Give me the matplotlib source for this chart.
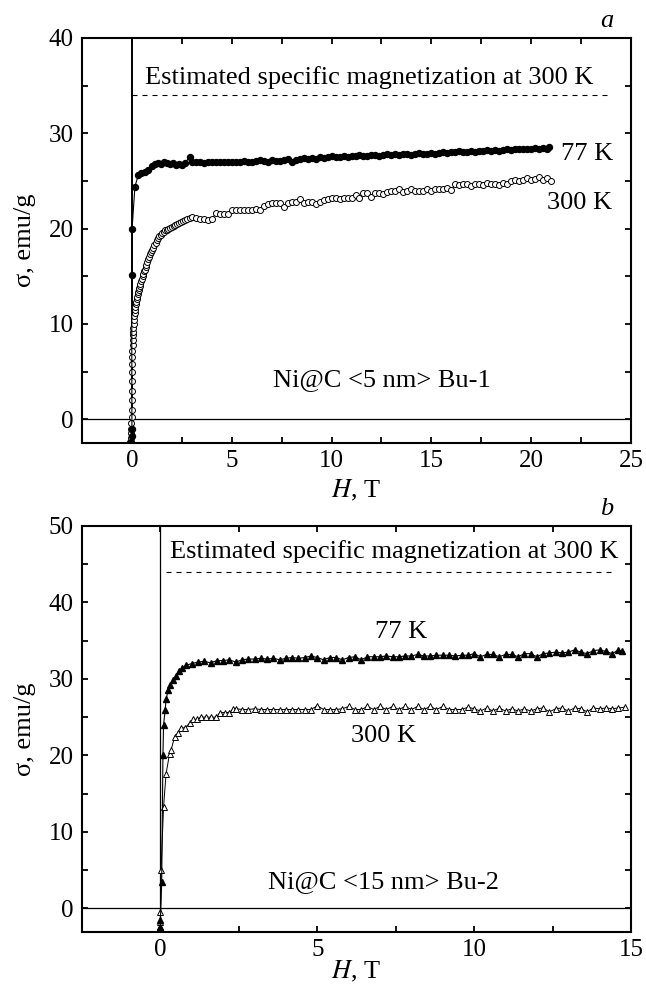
import matplotlib
matplotlib.use("Agg")
import matplotlib.pyplot as plt
from matplotlib.ticker import MultipleLocator

plt.rcParams['font.family'] = ['Liberation Serif', 'DejaVu Serif']
plt.rcParams['mathtext.fontset'] = 'stix'

# ---------------- Panel a: Ni@C <5 nm> Bu-1 ----------------
H_a_77 = [-0.04, -0.02, 0.0, -0.01, 0.01, 0.15, 0.32, 0.48, 0.65, 0.82, 1.0, 1.15,
          1.3, 1.45, 1.6, 1.75, 1.9, 2.05, 2.2, 2.35, 2.5, 2.65, 2.9,
          3.0, 3.2, 3.4, 3.6, 3.8, 4.0, 4.2, 4.4, 4.6, 4.8,
          5.0, 5.2, 5.4, 5.6, 5.8, 6.0, 6.2, 6.4, 6.6, 6.8,
          7.0, 7.2, 7.4, 7.6, 7.8, 8.0, 8.2, 8.4, 8.6, 8.8,
          9.0, 9.2, 9.4, 9.6, 9.8, 10.0, 10.2, 10.4, 10.6, 10.8,
          11.0, 11.2, 11.4, 11.6, 11.8, 12.0, 12.2, 12.4, 12.6, 12.8,
          13.0, 13.2, 13.4, 13.6, 13.8, 14.0, 14.2, 14.4, 14.6, 14.8,
          15.0, 15.2, 15.4, 15.6, 15.8, 16.0, 16.2, 16.4, 16.6, 16.8,
          17.0, 17.2, 17.4, 17.6, 17.8, 18.0, 18.2, 18.4, 18.6, 18.8,
          19.0, 19.2, 19.4, 19.6, 19.8, 20.0, 20.2, 20.4, 20.6, 20.8, 20.9]
S_a_77 = [-2.4, -1.8, -1.0, 15.1, 20.0, 24.4, 25.6, 25.8, 25.9, 26.1, 26.6, 26.8,
          26.9, 26.8, 27.0, 26.9, 26.8, 26.9, 26.7, 26.8, 26.7, 26.9, 27.5,
          27.0, 27.0, 27.0, 26.9, 27.0, 27.0, 27.0, 27.0, 27.0, 27.0,
          27.0, 27.0, 27.0, 27.1, 27.0, 27.0, 27.1, 27.2, 27.1, 27.0,
          27.2, 27.1, 27.1, 27.2, 27.3, 27.0, 27.2, 27.3, 27.4, 27.3,
          27.4, 27.3, 27.5, 27.4, 27.5, 27.6, 27.5, 27.5, 27.6, 27.5,
          27.6, 27.6, 27.7, 27.6, 27.6, 27.7, 27.7, 27.6, 27.7, 27.8,
          27.7, 27.8, 27.7, 27.8, 27.8, 27.7, 27.8, 27.9, 27.8, 27.8,
          27.9, 27.8, 27.9, 28.0, 27.9, 28.0, 28.0, 28.1, 28.0, 28.0,
          28.1, 28.0, 28.1, 28.1, 28.2, 28.1, 28.2, 28.1, 28.2, 28.4,
          28.2, 28.3, 28.3, 28.4, 28.3, 28.4, 28.5, 28.3, 28.5, 28.4, 28.6]

H_a_300 = [-0.08, -0.06, -0.05, -0.04, -0.03, -0.02, -0.02, -0.01,
           0.0, 0.005, 0.01, 0.015, 0.02, 0.025, 0.03, 0.04, 0.05, 0.06, 0.07, 0.085,
           0.1, 0.115, 0.13, 0.15, 0.17, 0.19, 0.21, 0.235, 0.26, 0.285,
           0.31, 0.34, 0.37, 0.4, 0.43, 0.465, 0.5, 0.535, 0.57, 0.61,
           0.65, 0.69, 0.73, 0.775, 0.82, 0.87, 0.92, 0.97, 1.02, 1.075,
           1.13, 1.19, 1.25, 1.31, 1.38, 1.45, 1.52, 1.6, 1.67, 1.75,
           1.83, 1.91, 2.0, 2.09, 2.18, 2.27, 2.37, 2.47, 2.57, 2.67, 2.78, 2.89,
           3.0, 3.2, 3.4, 3.6, 3.8, 4.0, 4.2, 4.4, 4.6, 4.8,
           5.0, 5.2, 5.4, 5.6, 5.8, 6.0, 6.2, 6.4, 6.6, 6.8,
           7.0, 7.2, 7.4, 7.6, 7.8, 8.0, 8.2, 8.4, 8.6, 8.8,
           9.0, 9.2, 9.4, 9.6, 9.8, 10.0, 10.2, 10.4, 10.6, 10.8,
           11.0, 11.2, 11.4, 11.6, 11.8, 12.0, 12.2, 12.4, 12.6, 12.8,
           13.0, 13.2, 13.4, 13.6, 13.8, 14.0, 14.2, 14.4, 14.6, 14.8,
           15.0, 15.2, 15.4, 15.6, 15.8, 16.0, 16.2, 16.4, 16.6, 16.8,
           17.0, 17.2, 17.4, 17.6, 17.8, 18.0, 18.2, 18.4, 18.6, 18.8,
           19.0, 19.2, 19.4, 19.6, 19.8, 20.0, 20.2, 20.4, 20.6, 20.8, 21.0]
S_a_300 = [-2.4, -2.0, -1.5, -1.0, -0.4, 0.2, 1.0, 2.0,
           3.0, 4.0, 5.0, 5.8, 6.5, 7.2, 7.8, 8.3, 8.8, 9.2, 9.6, 10.0,
           10.4, 10.8, 11.1, 11.5, 11.8, 12.1, 12.3, 12.6, 12.8, 13.1,
           13.3, 13.6, 13.8, 14.0, 14.2, 14.5, 14.7, 15.0, 15.2, 15.5,
           15.7, 16.0, 16.2, 16.5, 16.8, 17.0, 17.3, 17.5, 17.8, 18.0,
           18.3, 18.5, 18.8, 19.0, 19.2, 19.35, 19.5, 19.65, 19.8, 19.9,
           20.0, 20.1, 20.2, 20.3, 20.4, 20.5, 20.6, 20.7, 20.8, 20.9, 21.0, 21.1,
           21.2, 21.1, 21.0, 21.0, 20.9, 21.0, 21.6, 21.5, 21.5, 21.5,
           21.9, 22.0, 22.0, 22.0, 22.0, 22.0, 22.1, 22.0, 22.4, 22.6,
           22.7, 22.7, 22.7, 22.3, 22.7, 22.8, 22.8, 23.1, 22.7, 22.8,
           22.8, 22.6, 22.8, 23.0, 23.1, 23.2, 23.2, 23.1, 23.2, 23.2,
           23.2, 23.5, 23.2, 23.7, 23.7, 23.3, 23.7, 23.7, 23.6, 23.8,
           23.9, 23.9, 24.2, 23.8, 23.9, 24.2, 23.9, 23.9, 23.9, 24.2,
           23.9, 24.2, 24.2, 24.2, 24.3, 24.0, 24.7, 24.6, 24.7, 24.7,
           24.5, 24.7, 24.7, 24.6, 24.8, 24.7, 24.7, 24.6, 24.8, 24.7,
           25.0, 25.1, 25.0, 25.1, 25.3, 25.1, 25.2, 25.4, 25.1, 25.3, 25.0]

# ---------------- Panel b: Ni@C <15 nm> Bu-2 ----------------
H_b_77 = [0.0, 0.0, 0.04, 0.08, 0.1, 0.15, 0.18, 0.25, 0.3, 0.4, 0.5, 0.6, 0.7, 0.82,
          1.0, 1.2, 1.4, 1.6, 1.8, 2.0, 2.2, 2.4, 2.6, 2.8,
          3.0, 3.2, 3.4, 3.6, 3.8, 4.0, 4.2, 4.4, 4.6, 4.8,
          5.0, 5.2, 5.4, 5.6, 5.8, 6.0, 6.2, 6.4, 6.6, 6.8,
          7.0, 7.2, 7.4, 7.6, 7.8, 8.0, 8.2, 8.4, 8.6, 8.8,
          9.0, 9.2, 9.4, 9.6, 9.8, 10.0, 10.2, 10.4, 10.6, 10.8,
          11.0, 11.2, 11.4, 11.6, 11.8, 12.0, 12.2, 12.4, 12.6, 12.8,
          13.0, 13.2, 13.4, 13.6, 13.8, 14.0, 14.2, 14.4, 14.6, 14.7]
S_b_77 = [-2.4, -1.5, 3.4, 20.0, 24.0, 25.9, 27.4, 28.5, 29.2, 29.8, 30.4, 31.0, 31.4, 31.8,
          32.0, 32.2, 32.3, 32.1, 32.4, 32.4, 32.5, 32.2, 32.5, 32.6,
          32.6, 32.7, 32.6, 32.7, 32.5, 32.7, 32.8, 32.7, 32.8, 33.0,
          32.8, 32.5, 32.8, 32.8, 32.5, 32.8, 32.9, 32.5, 32.9, 32.9,
          32.9, 33.0, 32.9, 32.9, 33.0, 33.0, 33.2, 33.0, 33.0, 33.1,
          33.1, 33.1, 33.0, 33.1, 33.1, 33.3, 32.9, 33.2, 33.2, 32.9,
          33.2, 33.2, 32.9, 33.3, 33.3, 32.9, 33.3, 33.4, 33.5, 33.4,
          33.5, 33.8, 33.5, 33.3, 33.7, 33.8, 33.6, 33.3, 33.8, 33.6]

H_b_300 = [0.0, 0.0, 0.0, 0.02, 0.1, 0.18, 0.29, 0.34, 0.45, 0.55, 0.66, 0.78, 0.93,
           1.04, 1.15, 1.3, 1.46, 1.62, 1.78, 1.9, 2.05, 2.2, 2.32, 2.42,
           2.6, 2.8, 3.0, 3.2, 3.4, 3.6, 3.8, 4.0, 4.2, 4.4,
           4.6, 4.8, 5.0, 5.2, 5.4, 5.6, 5.8, 6.0, 6.2, 6.4,
           6.6, 6.8, 7.0, 7.2, 7.4, 7.6, 7.8, 8.0, 8.2, 8.4,
           8.6, 8.8, 9.0, 9.2, 9.4, 9.6, 9.8, 10.0, 10.2, 10.4,
           10.6, 10.8, 11.0, 11.2, 11.4, 11.6, 11.8, 12.0, 12.2, 12.4,
           12.6, 12.8, 13.0, 13.2, 13.4, 13.6, 13.8, 14.0, 14.2, 14.4,
           14.6, 14.8]
S_b_300 = [-2.4, -1.8, -0.5, 5.0, 13.3, 17.6, 20.2, 20.7, 22.4, 22.9, 23.6, 23.6, 24.2,
           24.7, 24.7, 25.0, 25.0, 25.0, 25.0, 25.6, 25.6, 25.6, 26.1, 26.1,
           26.0, 26.0, 26.1, 26.0, 26.0, 26.0, 26.0, 26.0, 26.0, 26.0,
           26.0, 26.0, 26.5, 26.0, 26.0, 26.0, 26.1, 26.4, 26.0, 26.0,
           26.4, 26.0, 26.4, 26.0, 26.4, 26.0, 26.4, 26.0, 26.4, 26.0,
           26.4, 26.0, 26.4, 26.0, 26.0, 26.0, 26.3, 26.1, 25.8, 26.2,
           25.8, 26.2, 25.8, 26.1, 25.8, 26.1, 25.8, 26.1, 26.2, 25.7,
           26.1, 26.2, 25.8, 26.2, 26.1, 25.7, 26.2, 26.1, 26.2, 26.1,
           26.2, 26.3]

EST_A = 34.0
EST_B = 44.0

TICK_FS = 18
TXT_FS = 19

fig = plt.figure(figsize=(6.46, 9.85), dpi=100)
ax_a = fig.add_axes([82/646, 1-443/985, 549/646, 405/985])
ax_b = fig.add_axes([82/646, 1-932/985, 549/646, 406/985])


def style(ax, xlim, ylim, ymajor):
    ax.set_xlim(*xlim)
    ax.set_ylim(*ylim)
    ax.xaxis.set_major_locator(MultipleLocator(5))
    ax.xaxis.set_minor_locator(MultipleLocator(2.5))
    ax.yaxis.set_major_locator(MultipleLocator(ymajor))
    ax.yaxis.set_minor_locator(MultipleLocator(ymajor / 2))
    for s in ax.spines.values():
        s.set_linewidth(1.5)
    ax.tick_params(which='both', direction='in', top=True, right=True,
                   length=4.5, width=1.3, labelsize=TICK_FS)
    ax.tick_params(axis='x', which='major', pad=5)
    ax.tick_params(axis='y', which='major', pad=6)
    ax.axhline(0, color='black', lw=0.9, zorder=1)
    ax.set_ylabel('σ, emu/g', fontsize=TXT_FS, va='center')
    ax.yaxis.set_label_coords(-0.104, 0.5)
    ax.set_xlabel('$H$, T', fontsize=TXT_FS, va='center')


# Panel a
style(ax_a, (-2.5, 25), (-2.5, 40), 10)
ax_a.xaxis.set_label_coords(0.5, -(490-443)/405)
ax_a.axvline(0, color='black', lw=1.4, zorder=1)
ax_a.plot(H_a_300, S_a_300, '-o', color='black', lw=0.7, ms=4.3, mfc='white',
          mec='black', mew=0.7, zorder=3)
ax_a.plot(H_a_77, S_a_77, '-o', color='black', lw=0.8, ms=4.3, mfc='black',
          mec='black', zorder=4)
ax_a.plot([0, 23.9], [EST_A, EST_A], color='black', lw=0.8, dashes=(4.5, 4.5))
ax_a.text(0.65, 35.2, 'Estimated specific magnetization at 300 K', fontsize=TXT_FS,
          va='baseline', ha='left')
ax_a.text(21.48, 27.2, '77 K', fontsize=TXT_FS, va='baseline', ha='left')
ax_a.text(20.8, 22.1, '300 K', fontsize=TXT_FS, va='baseline', ha='left')
ax_a.text(7.05, 3.5, 'Ni@C <5 nm> Bu-1', fontsize=TXT_FS, va='baseline', ha='left')
fig.text(606.7/646, 1-26.7/985, 'a', fontsize=TXT_FS, style='italic',
         ha='center', va='baseline')

# Panel b
style(ax_b, (-2.5, 15), (-3.1, 50), 10)
ax_b.xaxis.set_label_coords(0.5, -(971-932)/406)
ax_b.axvline(0, color='black', lw=0.9, zorder=1)
ax_b.plot(H_b_300, S_b_300, '-^', color='black', lw=0.7, ms=5, mfc='white',
          mec='black', mew=0.7, zorder=3)
ax_b.plot(H_b_77, S_b_77, '-^', color='black', lw=0.8, ms=5, mfc='black',
          mec='black', zorder=4)
ax_b.plot([0.18, 14.4], [EST_B, EST_B], color='black', lw=0.8, dashes=(4.5, 4.5))
ax_b.text(0.31, 45.8, 'Estimated specific magnetization at 300 K', fontsize=TXT_FS,
          va='baseline', ha='left')
ax_b.text(6.83, 35.4, '77 K', fontsize=TXT_FS, va='baseline', ha='left')
ax_b.text(6.08, 21.8, '300 K', fontsize=TXT_FS, va='baseline', ha='left')
ax_b.text(3.44, 2.6, 'Ni@C <15 nm> Bu-2', fontsize=TXT_FS, va='baseline', ha='left')
fig.text(606.7/646, 1-515/985, 'b', fontsize=TXT_FS, style='italic',
         ha='center', va='baseline')

fig.savefig('out.png', dpi=100)
